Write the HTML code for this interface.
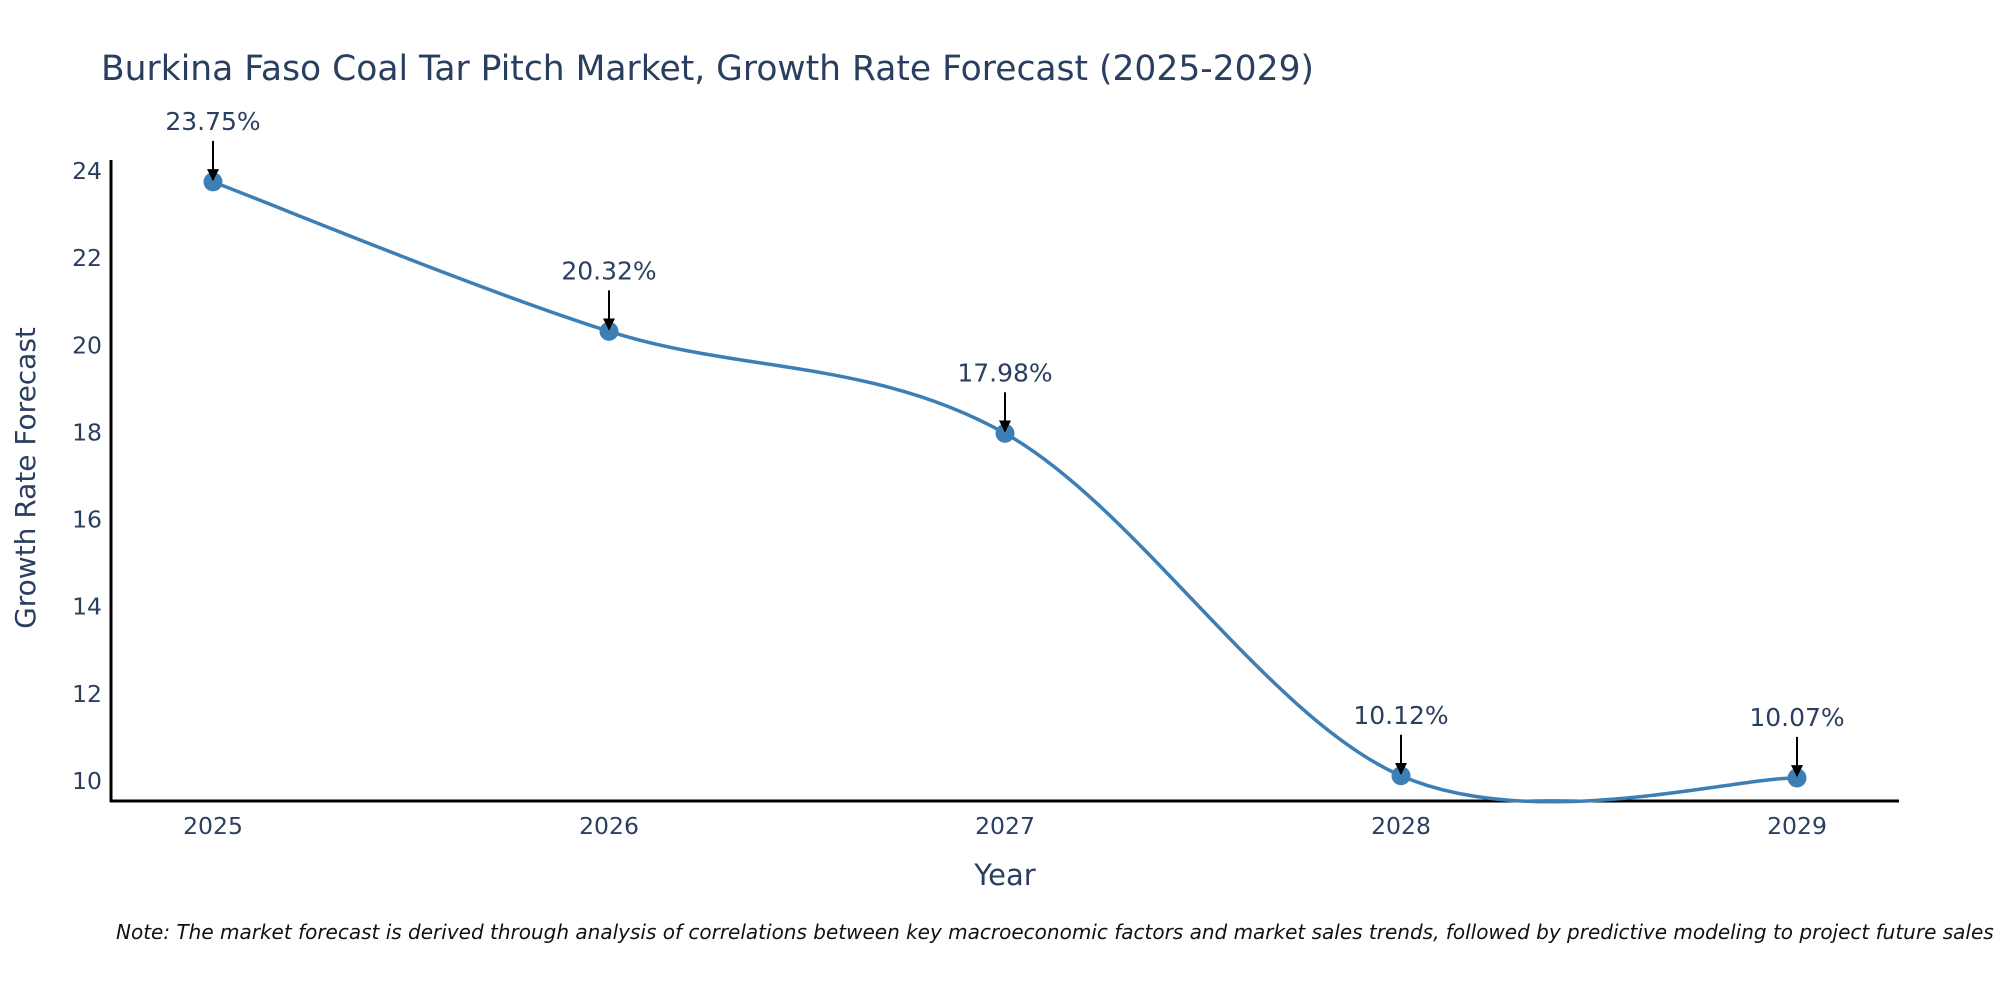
<!DOCTYPE html>
<html><head><meta charset="utf-8"><style>
html,body{margin:0;padding:0;background:#fff;width:2000px;height:1000px;overflow:hidden}
text{font-family:"DejaVu Sans","Liberation Sans",sans-serif;fill:#2a3f5f}
</style></head><body>
<svg id="chart" width="2000" height="1000" viewBox="0 0 2000 1000">
<defs><marker id="ah" viewBox="0 0 10 10" refX="9" refY="5" markerWidth="6" markerHeight="6" markerUnits="strokeWidth" orient="auto"><path d="M0,0 L10,5 L0,10 z" fill="#000"/></marker></defs>
<text x="101" y="80" font-size="34.5">Burkina Faso Coal Tar Pitch Market, Growth Rate Forecast (2025-2029)</text>
<g id="yticks"></g><g id="xticks"></g>
<line x1="111" y1="160" x2="111" y2="802" stroke="#000" stroke-width="3"/>
<line x1="110" y1="801" x2="1899" y2="801" stroke="#000" stroke-width="3"/>
<path id="line" fill="none" stroke="#3d7fb5" stroke-width="3.5"/>
<g id="points"></g><g id="annots"></g>
<text x="1005" y="885" font-size="29" text-anchor="middle">Year</text>
<text transform="translate(35,478) rotate(-90)" font-size="28" text-anchor="middle">Growth Rate Forecast</text>
<text x="116" y="939" font-size="20" font-style="italic" style="fill:#111">Note: The market forecast is derived through analysis of correlations between key macroeconomic factors and market sales trends, followed by predictive modeling to project future sales</text>
</svg>
<script>
const years=[2025,2026,2027,2028,2029];
const values=[23.75,20.32,17.98,10.12,10.07];
const labels=["23.75%","20.32%","17.98%","10.12%","10.07%"];
const yTicks=[10,12,14,16,18,20,22,24];
const NS="http://www.w3.org/2000/svg";
const xs=y=>213+(y-2025)*(1797-213)/4;
const ys=v=>781-(v-10)*(781-171)/14;
const yg=document.getElementById('yticks');
yTicks.forEach(v=>{const e=document.createElementNS(NS,'text');


e.setAttribute('x',102);e.setAttribute('y',ys(v)+8);e.setAttribute('font-size','23.5');e.setAttribute('text-anchor','end');e.textContent=v;yg.appendChild(e);});
const xg=document.getElementById('xticks');
years.forEach(y=>{const e=document.createElementNS(NS,'text');


e.setAttribute('x',xs(y));e.setAttribute('y',834);e.setAttribute('font-size','23.5');e.setAttribute('text-anchor','middle');e.textContent=y;xg.appendChild(e);});
const P=years.map((y,i)=>[xs(y),ys(values[i])]);
let d=`M${P[0][0]},${P[0][1]}`;
for(let i=0;i<P.length-1;i++){const p0=P[Math.max(i-1,0)],p1=P[i],p2=P[i+1],p3=P[Math.min(i+2,P.length-1)];
const c1=[p1[0]+(p2[0]-p0[0])/6,p1[1]+(p2[1]-p0[1])/6],c2=[p2[0]-(p3[0]-p1[0])/6,p2[1]-(p3[1]-p1[1])/6];
d+=` C${c1[0]},${c1[1]} ${c2[0]},${c2[1]} ${p2[0]},${p2[1]}`;}
document.getElementById('line').setAttribute('d',d);
const pg=document.getElementById('points'),ag=document.getElementById('annots');
P.forEach((p,i)=>{const c=document.createElementNS(NS,'circle');


c.setAttribute('cx',p[0]);c.setAttribute('cy',p[1]);c.setAttribute('r',9.5);c.setAttribute('fill','#3d7fb5');pg.appendChild(c);
const l=document.createElementNS(NS,'line');


l.setAttribute('x1',p[0]);l.setAttribute('y1',p[1]-41);l.setAttribute('x2',p[0]);l.setAttribute('y2',p[1]-2);l.setAttribute('stroke','#000');l.setAttribute('stroke-width','2');l.setAttribute('marker-end','url(#ah)');ag.appendChild(l);
const t=document.createElementNS(NS,'text');


t.setAttribute('x',p[0]);t.setAttribute('y',p[1]-52);t.setAttribute('font-size','25');t.setAttribute('text-anchor','middle');t.textContent=labels[i];ag.appendChild(t);});
</script>
</body></html>
